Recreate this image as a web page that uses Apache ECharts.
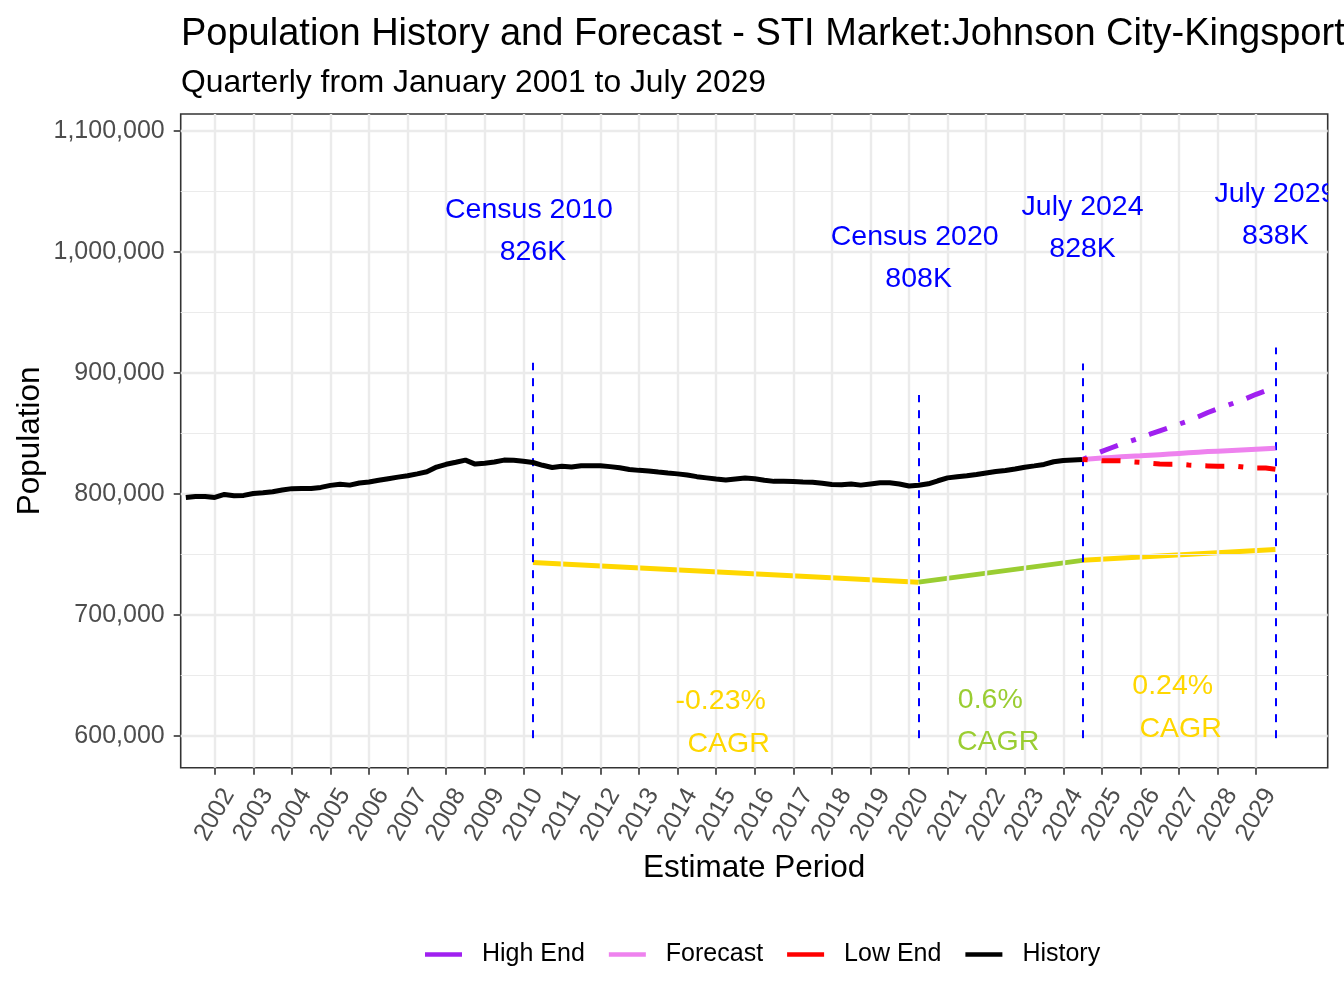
<!DOCTYPE html>
<html>
<head>
<meta charset="utf-8">
<script src="https://cdn.jsdelivr.net/npm/echarts@6/dist/echarts.min.js"></script>
<style>
html,body{margin:0;padding:0;background:#ffffff;}
#chart{width:1344px;height:1008px;}
</style>
</head>
<body>
<div id="chart"></div>
<script>
// ---------------- DATA ----------------
// History: quarterly, first point April 2001 (2001.25), last July 2024 (2024.5). Values in thousands.
const historyStartYear = 2001.25;
const historyK = [
  797.2, 798.0, 798.0,
  797.2, 799.7, 798.7, 798.9,
  800.5, 801.1, 801.9, 803.3,
  804.5, 804.6, 804.6, 805.5,
  807.2, 808.2, 807.4, 809.1,
  810.0, 811.4, 812.7, 814.0,
  815.1, 816.7, 818.4, 822.3,
  824.6, 826.3, 828.1, 824.8,
  825.5, 826.5, 828.1, 827.9,
  827.1, 826.1, 823.8, 822.0,
  823.0, 822.3, 823.4, 823.4,
  823.4, 822.7, 821.7, 820.3,
  819.6, 819.1, 818.2, 817.4,
  816.7, 815.7, 814.4, 813.4,
  812.4, 811.7, 812.5, 813.3,
  812.7, 811.5, 810.5, 810.5,
  810.4, 810.0, 809.7, 808.9,
  807.9, 807.7, 808.4, 807.4,
  808.4, 809.3, 809.3, 808.3,
  806.7, 807.3, 808.5, 811.0,
  813.4, 814.3, 815.1, 816.2,
  817.4, 818.6, 819.5, 820.7,
  822.2, 823.3, 824.5, 826.7,
  827.8, 828.2, 828.6
];
// Forecast scenarios: quarterly from July 2024 (2024.5) to July 2029 (2029.5). Values in thousands.
const forecastStartYear = 2024.5;
const forecastK = [828.6, 829.2, 829.8, 830.3, 830.8, 831.2, 831.6, 832.1, 832.6, 833.1, 833.6,
                   834.1, 834.6, 835.1, 835.5, 835.9, 836.3, 836.7, 837.1, 837.5, 837.9];
const highEndK  = [828.6, 832.0, 835.3, 838.3, 841.2, 843.8, 846.5, 849.5, 852.3, 855.0, 857.8,
                   860.6, 863.9, 867.4, 870.5, 873.3, 876.1, 879.1, 882.5, 885.4, 887.8];
const lowEndK   = [828.6, 828.3, 827.6, 827.6, 827.5, 826.8, 826.3, 825.5, 824.9, 824.7, 824.7,
                   824.0, 823.6, 823.3, 823.0, 823.0, 822.9, 822.1, 821.6, 821.5, 820.5];

// Reference dates (Census 2010, Census 2020, July 2024, July 2029)
const refDates = [2010.25, 2020.25, 2024.5, 2029.5];
const refNames = ['Census 2010 ', 'Census 2020 ', 'July 2024', 'July 2029'];
const refValueLabels = ['826K', '808K', '828K', '838K'];
const refLabelY = [999600, 977700, 1002500, 1013400];
const refLineBottom = [598200, 598200, 598200, 598200];
const refLineTop = [908500, 881800, 908000, 921200];

// CAGR guide line (anchored at the reference dates)
const cagrLineValues = [743400, 727200, 745200, 754200];
const cagrSegmentColors = ['#FFD700', '#9ACD32', '#FFD700'];
const cagrTexts = ['-0.23% ', '0.6% ', '0.24% '];
const cagrLabelX = [2015.22, 2022.21, 2026.94];
const cagrLabelY = [611200, 612100, 623300];

// Axis ticks
const yearTicks = [2002,2003,2004,2005,2006,2007,2008,2009,2010,2011,2012,2013,2014,2015,
                   2016,2017,2018,2019,2020,2021,2022,2023,2024,2025,2026,2027,2028,2029];
const yTicks = [600000, 700000, 800000, 900000, 1000000, 1100000];
const yMinorTicks = [650000, 750000, 850000, 950000, 1050000];

// ---------------- BUILD ----------------
const FONT = '"Liberation Sans", Arial, Helvetica, sans-serif';
const toPoints = (start, arr) => arr.map((v, i) => [start + i * 0.25, v * 1000]);

const historyData = toPoints(historyStartYear, historyK);
const forecastData = toPoints(forecastStartYear, forecastK);
const highData = toPoints(forecastStartYear, highEndK);
const lowData = toPoints(forecastStartYear, lowEndK);

const LW = 5;
const dotDash = [5, 14, 19, 14];

const gridLineData = []
  .concat(yearTicks.map(y => ({ xAxis: y, lineStyle: { color: '#EBEBEB', width: 2.4, type: 'solid' } })))
  .concat(yMinorTicks.map(v => ({ yAxis: v, lineStyle: { color: '#EBEBEB', width: 1.2, type: 'solid' } })))
  .concat(yTicks.map(v => ({ yAxis: v, lineStyle: { color: '#EBEBEB', width: 2.4, type: 'solid' } })));

const cagrSeries = cagrSegmentColors.map((c, i) => ({
  type: 'line',
  name: 'cagr' + i,
  data: [[refDates[i], cagrLineValues[i]], [refDates[i + 1], cagrLineValues[i + 1]]],
  showSymbol: false,
  symbol: 'none',
  lineStyle: { color: c, width: LW },
  itemStyle: { color: c },
  silent: true,
  z: 3
}));

const refLineData = refDates.map((d, i) => [
  { coord: [d, refLineBottom[i]] },
  { coord: [d, refLineTop[i]] }
]);

const option = {
  animation: false,
  backgroundColor: '#ffffff',
  title: [
    {
      text: 'Population History and Forecast - STI Market:Johnson City-Kingsport',
      left: 181, top: 16, padding: 0,
      textStyle: { fontSize: 38, fontWeight: 'normal', color: '#000000', fontFamily: FONT }
    },
    {
      text: 'Quarterly from January 2001 to July 2029',
      left: 181, top: 67, padding: 0,
      textStyle: { fontSize: 31.8, fontWeight: 'normal', color: '#000000', fontFamily: FONT }
    }
  ],
  legend: {
    data: ['High End', 'Forecast', 'Low End', 'History'],
    left: 425, top: 942, padding: 0,
    icon: 'rect',
    itemWidth: 37, itemHeight: 4.7, itemGap: 24,
    selectedMode: false,
    textStyle: { fontSize: 25, color: '#000000', fontFamily: FONT, padding: [0, 0, 0, 15] }
  },
  grid: {
    left: 180.7, right: 16.3, top: 114, bottom: 240.3,
    show: true, borderColor: '#333333', borderWidth: 1.6, backgroundColor: 'transparent'
  },
  xAxis: {
    type: 'value',
    min: 2001.117, max: 2030.856,
    axisLine: { show: false },
    splitLine: { show: false },
    minorSplitLine: { show: false },
    axisTick: { show: true, customValues: yearTicks, length: 7, lineStyle: { color: '#333333', width: 1.6 } },
    axisLabel: {
      customValues: yearTicks,
      rotate: 60, align: 'center', verticalAlign: 'middle', margin: 47,
      fontSize: 25, color: '#4D4D4D', fontFamily: FONT,
      formatter: v => String(Math.round(v))
    },
    name: 'Estimate Period', nameLocation: 'middle', nameGap: 85, nameMoveOverlap: false,
    nameTextStyle: { fontSize: 31.5, color: '#000000', fontFamily: FONT }
  },
  yAxis: {
    type: 'value',
    min: 573800, max: 1114200,
    axisLine: { show: false },
    splitLine: { show: false },
    axisTick: { show: true, customValues: yTicks, length: 7, lineStyle: { color: '#333333', width: 1.6 } },
    axisLabel: {
      customValues: yTicks,
      margin: 16, fontSize: 25, color: '#4D4D4D', fontFamily: FONT,
      formatter: v => Math.round(v).toLocaleString('en-US')
    },
    name: 'Population', nameLocation: 'middle', nameRotate: 90, nameGap: 134, nameMoveOverlap: false,
    nameTextStyle: { fontSize: 31.5, color: '#000000', fontFamily: FONT }
  },
  series: [
    {
      type: 'line', name: 'gridlines', data: [], silent: true, z: 1,
      markLine: {
        silent: true, symbol: ['none', 'none'], animation: false,
        label: { show: false },
        emphasis: { disabled: true },
        data: gridLineData
      }
    },
    ...cagrSeries,
    {
      type: 'line', name: 'refLines', data: [], silent: true, z: 4,
      markLine: {
        silent: true, symbol: ['none', 'none'], animation: false,
        label: { show: false },
        emphasis: { disabled: true },
        lineStyle: { color: '#0000FF', width: 2, type: [8, 8] },
        data: refLineData
      }
    },
    {
      type: 'line', name: 'History', data: historyData, showSymbol: false, symbol: 'none',
      lineStyle: { color: '#000000', width: LW }, itemStyle: { color: '#000000' }, z: 5, silent: true
    },
    {
      type: 'line', name: 'Forecast', data: forecastData, showSymbol: false, symbol: 'none',
      lineStyle: { color: '#EE82EE', width: LW }, itemStyle: { color: '#EE82EE' }, z: 6, silent: true
    },
    {
      type: 'line', name: 'High End', data: highData, showSymbol: false, symbol: 'none',
      lineStyle: { color: '#A020F0', width: LW, type: dotDash }, itemStyle: { color: '#A020F0' }, z: 7, silent: true
    },
    {
      type: 'line', name: 'Low End', data: lowData, showSymbol: false, symbol: 'none',
      lineStyle: { color: '#FF0000', width: LW, type: dotDash }, itemStyle: { color: '#FF0000' }, z: 8, silent: true
    },
    {
      type: 'custom', name: 'refLabels', clip: true, silent: true, z: 9,
      data: refDates.map((d, i) => [d, refLabelY[i]]),
      renderItem: function (params, api) {
        const i = params.dataIndex;
        const p = api.coord([api.value(0), api.value(1)]);
        const st = { fill: '#0000FF', fontSize: 28.5, fontFamily: FONT, align: 'center', verticalAlign: 'middle' };
        return {
          type: 'group',
          children: [
            { type: 'text', x: p[0], y: p[1] - 42, style: Object.assign({ text: refNames[i] }, st) },
            { type: 'text', x: p[0], y: p[1], style: Object.assign({ text: refValueLabels[i] }, st) }
          ]
        };
      }
    },
    {
      type: 'custom', name: 'cagrLabels', clip: true, silent: true, z: 9,
      data: cagrLabelX.map((x, i) => [x, cagrLabelY[i]]),
      renderItem: function (params, api) {
        const i = params.dataIndex;
        const p = api.coord([api.value(0), api.value(1)]);
        const st = { fill: cagrSegmentColors[i], fontSize: 28.5, fontFamily: FONT, align: 'center', verticalAlign: 'middle' };
        return {
          type: 'group',
          children: [
            { type: 'text', x: p[0], y: p[1] - 21.25, style: Object.assign({ text: cagrTexts[i] }, st) },
            { type: 'text', x: p[0], y: p[1] + 21.25, style: Object.assign({ text: ' CAGR' }, st) }
          ]
        };
      }
    }
  ]
};

const chart = echarts.init(document.getElementById('chart'), null, { renderer: 'canvas' });
chart.setOption(option);
</script>
</body>
</html>
